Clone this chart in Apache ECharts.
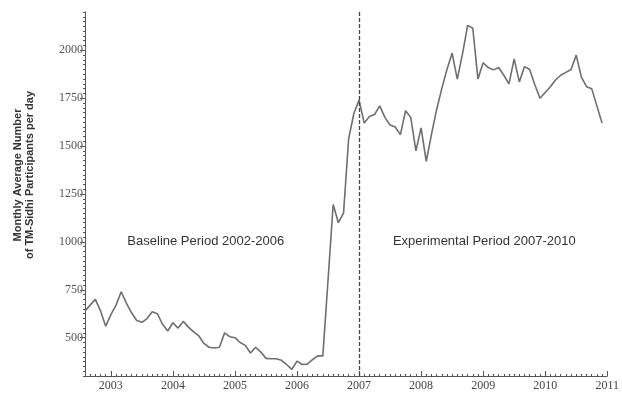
<!DOCTYPE html>
<html>
<head>
<meta charset="utf-8">
<script src="https://cdn.jsdelivr.net/npm/echarts@6/dist/echarts.min.js"></script>
<style>html,body{margin:0;padding:0;background:#fff}#c{width:622px;height:394px}</style>
</head>
<body>
<div id="c"></div>
<script>
// Monthly series: first value is August 2002, last is December 2010
const startYear = 2002;
const startMonth = 8;
const participants = [
  640, 670, 700, 640, 560,
  620, 670, 740, 680, 630, 590, 580, 600, 635, 625, 570, 535,
  578, 550, 585, 555, 530, 510, 470, 450, 446, 450, 525, 505,
  500, 475, 460, 420, 450, 425, 392, 390, 390, 382, 360, 335,
  378, 360, 362, 385, 405, 405, 800, 1195, 1100, 1150, 1540, 1670,
  1740, 1620, 1655, 1665, 1710, 1650, 1610, 1600, 1560, 1685, 1650, 1475,
  1595, 1420, 1560, 1690, 1800, 1900, 1985, 1850, 1980, 2130, 2115, 1850,
  1935, 1910, 1898, 1910, 1870, 1825, 1955, 1835, 1915, 1900, 1820, 1750,
  1780, 1810, 1845, 1870, 1885, 1900, 1975, 1860, 1810, 1800, 1710, 1620
];
const yearTicks = [2003, 2004, 2005, 2006, 2007, 2008, 2009, 2010, 2011];
const valueTicks = [500, 750, 1000, 1250, 1500, 1750, 2000];
const phaseBoundary = 2007;
const yTitle = ['Monthly Average Number', 'of TM-Sidhi Participants per day'];
const baselineLabel = 'Baseline Period 2002-2006';
const experimentalLabel = 'Experimental Period 2007-2010';

const xStart = startYear + (startMonth - 1) / 12;
const seriesData = participants.map((v, i) => [xStart + i / 12, v]);

const chart = echarts.init(document.getElementById('c'), null, {renderer: 'canvas'});
const axisColor = '#555';
const serif = 'Liberation Serif';
const periodLabel = {show: true, position: 'inside', fontFamily: 'Liberation Sans', fontSize: 13, color: '#333'};
chart.setOption({
  animation: false,
  backgroundColor: '#fff',
  grid: {left: 85, right: 12, top: 12, bottom: 18},
  xAxis: [
    {
      type: 'value', min: xStart, max: 2011, interval: 1 / 12,
      axisLine: {lineStyle: {color: axisColor, width: 1}},
      axisTick: {inside: true, length: 2, lineStyle: {color: axisColor}},
      axisLabel: {show: false}, splitLine: {show: false}
    },
    {
      type: 'value', min: xStart, max: 2011, position: 'bottom',
      axisLine: {show: false},
      axisTick: {customValues: yearTicks, inside: true, length: 5, lineStyle: {color: axisColor}},
      axisLabel: {customValues: yearTicks, fontFamily: serif, fontSize: 12, color: '#444', margin: 4,
        formatter: v => String(Math.round(v))},
      splitLine: {show: false}
    }
  ],
  yAxis: [
    {
      type: 'value', min: 300, max: 2200, interval: 25, position: 'left',
      axisLine: {show: true, lineStyle: {color: axisColor, width: 1}},
      axisTick: {show: true, length: 2, lineStyle: {color: axisColor}},
      axisLabel: {show: false}, splitLine: {show: false}
    },
    {
      type: 'value', min: 300, max: 2200, position: 'left',
      axisLine: {show: false},
      axisTick: {show: true, customValues: valueTicks, length: 5, lineStyle: {color: axisColor}},
      axisLabel: {customValues: valueTicks, fontFamily: serif, fontSize: 12, color: '#555', margin: 2,
        formatter: v => String(Math.round(v))},
      splitLine: {show: false}
    }
  ],
  graphic: [
    {type: 'text', x: 18, y: 175, rotation: Math.PI / 2,
      style: {text: yTitle[0], font: 'bold 11px "Liberation Sans"', fill: '#333', align: 'center', verticalAlign: 'middle'}},
    {type: 'text', x: 30, y: 175, rotation: Math.PI / 2,
      style: {text: yTitle[1], font: 'bold 11px "Liberation Sans"', fill: '#333', align: 'center', verticalAlign: 'middle'}}
  ],
  series: [{
    type: 'line', xAxisIndex: 0, yAxisIndex: 0,
    data: seriesData, showSymbol: false, symbol: 'none',
    lineStyle: {color: '#6e6e6e', width: 1.6},
    markLine: {
      silent: true, symbol: 'none', label: {show: false},
      lineStyle: {color: '#444', type: [4, 2], width: 1.3},
      data: [{xAxis: phaseBoundary}]
    },
    markPoint: {
      symbol: 'rect', symbolSize: 1, silent: true,
      itemStyle: {color: 'rgba(0,0,0,0)'},
      label: periodLabel,
      data: [
        {coord: [2004.53, 1000], value: 0, label: {formatter: baselineLabel}},
        {coord: [2009.02, 1000], value: 0, label: {formatter: experimentalLabel}}
      ]
    }
  }]
});
</script>
</body>
</html>
